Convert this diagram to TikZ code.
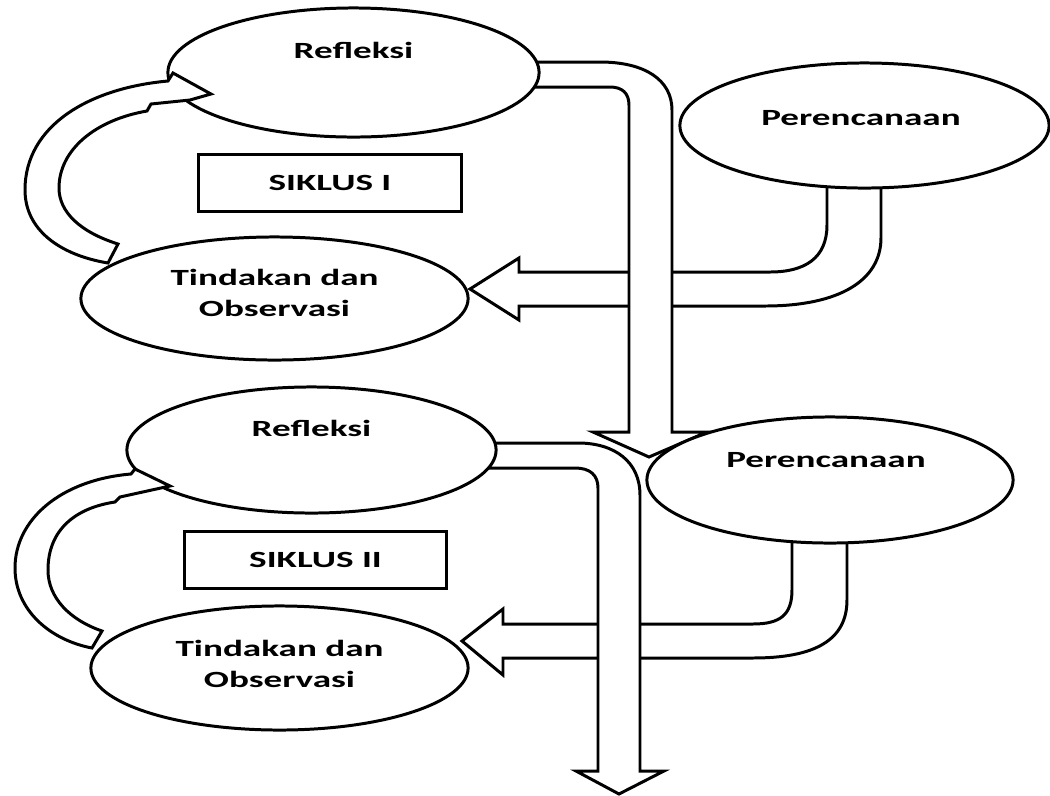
\documentclass[tikz,border=0pt]{standalone}
\usepackage{fontspec}
\newfontfamily\lblfont{Carlito}[FakeStretch=1.6]
\usetikzlibrary{shapes.geometric}

\begin{document}
\begin{tikzpicture}[x=0.01cm, y=-0.01cm]
\tikzset{oval/.style={
    ellipse, draw, fill=white,
    line width=0.85pt,
    inner sep=0pt
  },
  caption/.style={
    font=\lblfont\bfseries\fontsize{6.6}{8.8}\selectfont,
    align=center
  },
  cyclebox/.style={
    rectangle, draw, fill=white,
    line width=0.85pt,
    minimum width=2.62cm, minimum height=0.56cm,
    caption
  },
  blockarrow/.style={draw, fill=white, line width=0.85pt, line join=miter}
}
\useasboundingbox (0,0) rectangle (1050,796);

% Perencanaan -> Tindakan dan Observasi
\draw[blockarrow] (827,170) -- (827,225) .. controls (827,258) and (805,272) .. (770,272)
  -- (519,272) -- (519,258) -- (470,289) -- (519,320) -- (519,306) -- (765,306)
  .. controls (840,306) and (881,280) .. (881,238) -- (881,170) -- cycle;
\draw[blockarrow] (792,530) -- (792,590) .. controls (792,615) and (780,624) .. (753,624)
  -- (503,624) -- (503,609) -- (462,641) -- (503,675) -- (503,658) -- (753,658)
  .. controls (815,658) and (847,640) .. (847,600) -- (847,530) -- cycle;

% Refleksi -> next cycle
\draw[blockarrow] (530,62) -- (600,62) .. controls (645,62) and (672,80) .. (672,110)
  -- (672,432) -- (707,432) -- (649,457) -- (593,432) -- (629,432) -- (629,105)
  .. controls (629,93) and (622,87) .. (610,87) -- (530,87) -- cycle;
\draw[blockarrow] (490,443) -- (578,443) .. controls (615,443) and (640,462) .. (640,495)
  -- (640,771) -- (664,771) -- (619,794) -- (576,771) -- (598,771) -- (598,488)
  .. controls (598,475) and (590,468) .. (575,468) -- (490,468) -- cycle;

% siklus I
\node[oval, minimum width=3.71cm, minimum height=1.29cm,
  label={[caption, yshift=2.2mm]center:Refleksi}] (refl1) at (353.5,72.5) {};
\node[oval, minimum width=3.87cm, minimum height=1.23cm,
  label={[caption, yshift=0.6mm]center:Tindakan dan\\Observasi}] (tind1) at (274.5,298.5) {};
\node[oval, minimum width=3.69cm, minimum height=1.25cm,
  label={[caption, yshift=0.75mm, xshift=-0.35mm]center:Perencanaan}] (plan1) at (864.5,125.5) {};
\node[cyclebox] (siklus1) at (330,183) {SIKLUS I};

% siklus II
\node[oval, minimum width=3.69cm, minimum height=1.26cm,
  label={[caption, yshift=2.2mm]center:Refleksi}] (refl2) at (311.5,450) {};
\node[oval, minimum width=3.77cm, minimum height=1.24cm,
  label={[caption, yshift=0.4mm]center:Tindakan dan\\Observasi}] (tind2) at (279.5,668) {};
\node[oval, minimum width=3.66cm, minimum height=1.26cm,
  label={[caption, yshift=2mm, xshift=-0.4mm]center:Perencanaan}] (plan2) at (830,480) {};
\node[cyclebox] (siklus2) at (315.5,560) {SIKLUS II};

% Tindakan dan Observasi -> Refleksi (curved)
\draw[blockarrow] (168,81) .. controls (90,88) and (25,125) .. (25,190)
  .. controls (25,230) and (60,255) .. (108,263) -- (118,244)
  .. controls (80,232) and (59,212) .. (59,188)
  .. controls (59,150) and (95,120) .. (147,111)
  -- (151,104) -- (190,100) -- (211,94) -- (173,73) -- cycle;
\draw[blockarrow] (131,474) .. controls (60,480) and (15,520) .. (15,568)
  .. controls (15,610) and (50,640) .. (92,648) -- (102,631)
  .. controls (70,620) and (48,598) .. (48,570)
  .. controls (48,530) and (75,508) .. (115,502)
  -- (120,497) -- (170,486) -- (135,469) -- cycle;
\end{tikzpicture}
\end{document}
